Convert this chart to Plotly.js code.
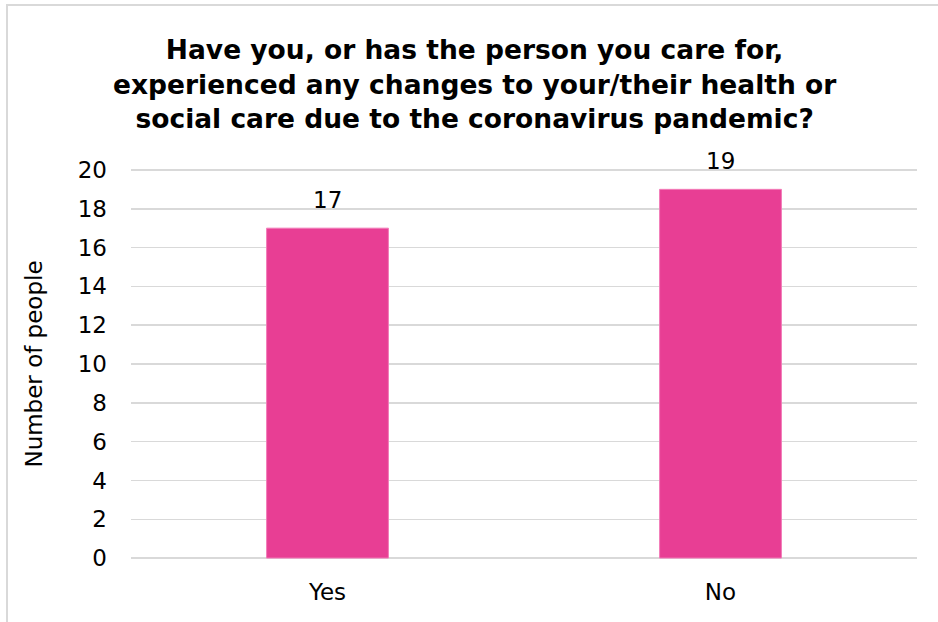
<!DOCTYPE html>
<html>
<head>
<meta charset="utf-8">
<script src="https://cdn.plot.ly/plotly-3.0.1.min.js"></script>
<style>
  html, body { margin: 0; padding: 0; background: #ffffff; overflow: hidden; }
  #chart { width: 938px; height: 622px; }
  #frame { position: absolute; left: 6px; top: 4px; width: 1000px; height: 1000px;
           border-left: 2px solid #d9d9d9; border-top: 2px solid #d9d9d9; pointer-events: none; }
</style>
</head>
<body>
<div id="chart"></div>
<div id="frame"></div>
<script>
const categories = ["Yes", "No"];
const values = [17, 19];
const yTicks = [0, 2, 4, 6, 8, 10, 12, 14, 16, 18, 20];
const titleText = "Have you, or has the person you care for,<br>experienced any changes to your/their health or<br>social care due to the coronavirus pandemic?";
const yTitle = "Number of people";

const font = "DejaVu Sans, Verdana, sans-serif";

const trace = {
  type: "bar",
  x: categories,
  y: values,
  cliponaxis: false,
  marker: { color: "#e83e94", line: { color: "#f27bb8", width: 1 } },
  hoverinfo: "none"
};

const labels = categories.map((c, i) => ({
  x: c, y: values[i], xref: "x", yref: "y",
  text: String(values[i]), showarrow: false,
  yanchor: "bottom", yshift: 13,
  font: { family: font, size: 23, color: "#000000" }
}));

const layout = {
  width: 938,
  height: 622,
  margin: { l: 131, r: 21, t: 168, b: 62 },
  paper_bgcolor: "#ffffff",
  plot_bgcolor: "#ffffff",
  showlegend: false,
  bargap: 0.69,
  font: { family: font, color: "#000000" },
  annotations: labels,
  title: {
    text: titleText,
    font: { family: font, size: 26.5, color: "#000000", weight: "bold" },
    x: 0.506, xanchor: "center",
    y: 0.905, yanchor: "top", yref: "container"
  },
  xaxis: {
    type: "category",
    tickfont: { family: font, size: 23, color: "#000000" },
    showgrid: false, zeroline: false, showline: false,
    ticks: "", ticklen: 0, ticklabelstandoff: 16
  },
  yaxis: {
    range: [-0.1, 20.1],
    tickvals: yTicks,
    ticktext: yTicks.map(String),
    tickfont: { family: font, size: 23, color: "#000000" },
    showgrid: true, gridcolor: "#d9d9d9", gridwidth: 1.5,
    zeroline: false, showline: false,
    ticks: "", ticklabelstandoff: 23,
    title: { text: yTitle, font: { family: font, size: 23, color: "#000000" }, standoff: 28 }
  }
};

Plotly.newPlot("chart", [trace], layout, { displayModeBar: false, staticPlot: true });
</script>
</body>
</html>
